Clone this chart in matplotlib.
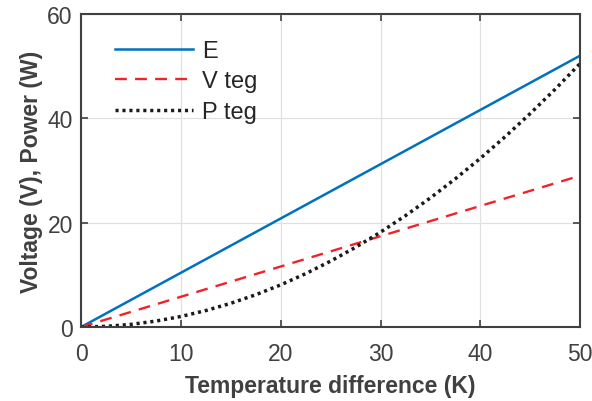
import matplotlib
matplotlib.use("Agg")
import matplotlib.pyplot as plt

# temperature difference (K)
dT = [0, 2.5, 5, 7.5, 10, 12.5, 15, 17.5, 20, 22.5, 25, 27.5, 30,
      32.5, 35, 37.5, 40, 42.5, 45, 47.5, 50]
E = [0, 2.6, 5.2, 7.8, 10.4, 13.0, 15.6, 18.2, 20.8, 23.4, 26.0, 28.6,
     31.2, 33.8, 36.4, 39.0, 41.6, 44.2, 46.8, 49.4, 52.0]
V_teg = [0, 1.45, 2.9, 4.35, 5.8, 7.25, 8.7, 10.15, 11.6, 13.05, 14.5,
         15.95, 17.4, 18.85, 20.3, 21.75, 23.2, 24.65, 26.1, 27.55, 29.0]
P_teg = [0, 0.13, 0.51, 1.14, 2.02, 3.16, 4.55, 6.19, 8.08, 10.23, 12.63,
         15.28, 18.18, 21.34, 24.75, 28.41, 32.32, 36.49, 40.91, 45.58, 50.5]

plt.rcParams['font.family'] = ['Liberation Sans', 'DejaVu Sans']
axcol = '#404040'

fig = plt.figure(figsize=(5.92, 4.02), dpi=100)
ax = fig.add_axes([0.137, 0.184, 0.843, 0.779])

ax.plot(dT, E, color='#0072BD', lw=1.8, label='E')
ax.plot(dT, V_teg, color='#F0232A', lw=1.7, ls=(0, (5, 3.5)), label='V teg')
ax.plot(dT, P_teg, color='#1a1a1a', lw=2.5, ls=(0, (0.9, 1.1)), label='P teg')

ax.set_xlim(0, 50)
ax.set_ylim(0, 60)
ax.set_xticks([0, 10, 20, 30, 40, 50])
ax.set_yticks([0, 20, 40, 60])
ax.grid(True, color='#e0e0e0', lw=0.9)
ax.set_axisbelow(True)
ax.tick_params(direction='in', length=5, width=1.2, colors=axcol,
               labelsize=16.5, top=True, right=True, labelcolor=axcol)
ax.tick_params(axis='x', pad=11)
ax.tick_params(axis='y', pad=6)
for s in ax.spines.values():
    s.set_color(axcol)
    s.set_linewidth(1.5)

ax.set_xlabel('Temperature difference (K)', fontsize=16.5, fontweight='bold',
              color=axcol, labelpad=6)
ax.set_ylabel('Voltage (V), Power (W)', fontsize=16.5, fontweight='bold',
              color=axcol, labelpad=3)

leg = ax.legend(loc='upper left', frameon=False, fontsize=17,
                handlelength=3.3, handletextpad=0.4, labelspacing=0.36,
                bbox_to_anchor=(0.025, 0.985))
for t in leg.get_texts():
    t.set_color('#262626')

fig.savefig('out.png', dpi=100)
